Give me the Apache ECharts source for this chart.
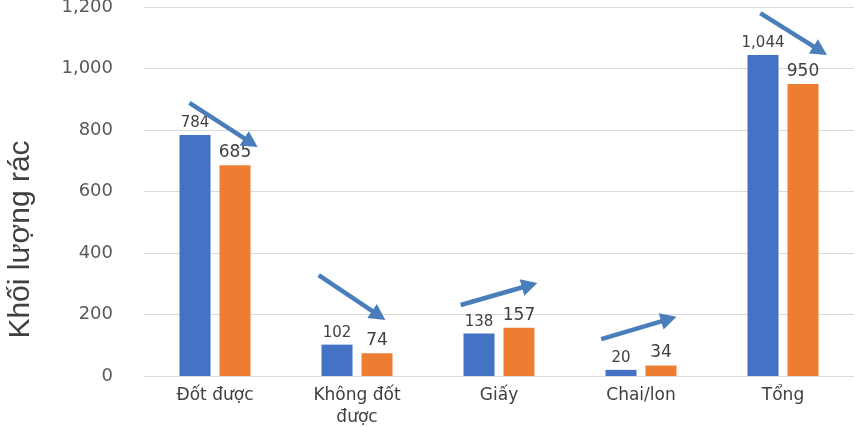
<!DOCTYPE html>
<html lang="vi" style="height: 100%">
    <head>
        <meta charset="utf-8">
        <title>Khối lượng rác</title>
    </head>
    <body style="height: 100%; margin: 0; background: #fff">
        <div id="container" style="width: 855px; height: 427px"></div>
        <script src="https://cdn.jsdelivr.net/npm/echarts@6/dist/echarts.min.js"></script>
        <script>
            let categories = ["Đốt được", "Không đốt\nđược", "Giấy", "Chai/lon", "Tổng"];
            let before = [784, 102, 138, 20, 1044];
            let after = [685, 74, 157, 34, 950];
            let yTicks = [0, 200, 400, 600, 800, 1000, 1200];
            // arrows: [x start, y start, x end, y end], x in category index units
            let arrows = [
                [-0.18, 888, 0.253, 759],
                [0.73, 328, 1.153, 197],
                [1.73, 231, 2.216, 295],
                [2.72, 120, 3.196, 185],
                [3.84, 1180, 4.262, 1058]
            ];

            let font = "DejaVu Sans";
            let dom = document.getElementById("container");
            let chart = echarts.init(dom, null, { renderer: "canvas" });

            let arrowLines = arrows.map(function (a) {
                return [{ coord: [a[0], a[1]] }, { coord: [a[2], a[3]] }];
            });

            function fmt(v) {
                return v.toLocaleString("en-US");
            }

            let option = {
                animation: false,
                textStyle: { fontFamily: font },
                grid: { left: 144, right: 1, top: 7, bottom: 51, outerBoundsMode: "none", containLabel: false },
                xAxis: [
                    {
                        type: "category",
                        data: categories,
                        axisLine: { show: false },
                        axisTick: { show: false },
                        axisLabel: { color: "#404040", fontSize: 17, margin: 9, lineHeight: 22, fontFamily: font }
                    },
                    {
                        type: "value",
                        min: -0.5,
                        max: 4.5,
                        show: false
                    }
                ],
                yAxis: {
                    type: "value",
                    min: yTicks[0],
                    max: yTicks[yTicks.length - 1],
                    interval: 200,
                    name: "Khối lượng rác",
                    nameLocation: "middle",
                    nameGap: 108,
                    nameTextStyle: {
                        fontSize: 30,
                        color: "#404040",
                        fontFamily: "Liberation Sans",
                        padding: [0, 96, 0, 0]
                    },
                    axisLine: { show: false },
                    axisTick: { show: false },
                    axisLabel: {
                        color: "#595959",
                        fontSize: 18,
                        margin: 31,
                        fontFamily: font,
                        formatter: function (v) { return fmt(v); }
                    },
                    splitLine: { lineStyle: { color: "#d9d9d9", width: 1 } }
                },
                series: [
                    {
                        type: "bar",
                        data: before,
                        barWidth: 31,
                        barGap: "29%",
                        itemStyle: { color: "#4472C4" },
                        label: {
                            show: true,
                            position: "top",
                            distance: 4,
                            color: "#404040",
                            fontSize: 15,
                            fontFamily: font,
                            formatter: function (p) { return fmt(p.value); }
                        }
                    },
                    {
                        type: "bar",
                        data: after,
                        barWidth: 31,
                        itemStyle: { color: "#ED7D31" },
                        label: {
                            show: true,
                            position: "top",
                            distance: 4,
                            color: "#404040",
                            fontSize: 17,
                            fontFamily: font,
                            formatter: function (p) { return fmt(p.value); }
                        }
                    },
                    {
                        type: "line",
                        xAxisIndex: 1,
                        data: [],
                        silent: true,
                        markLine: {
                            silent: true,
                            symbol: ["none", "triangle"],
                            symbolSize: [17, 16],
                            label: { show: false },
                            lineStyle: { color: "#4A7EBB", width: 4.5, type: "solid" },
                            data: arrowLines
                        }
                    }
                ]
            };

            chart.setOption(option);
        </script>
    </body>
</html>
